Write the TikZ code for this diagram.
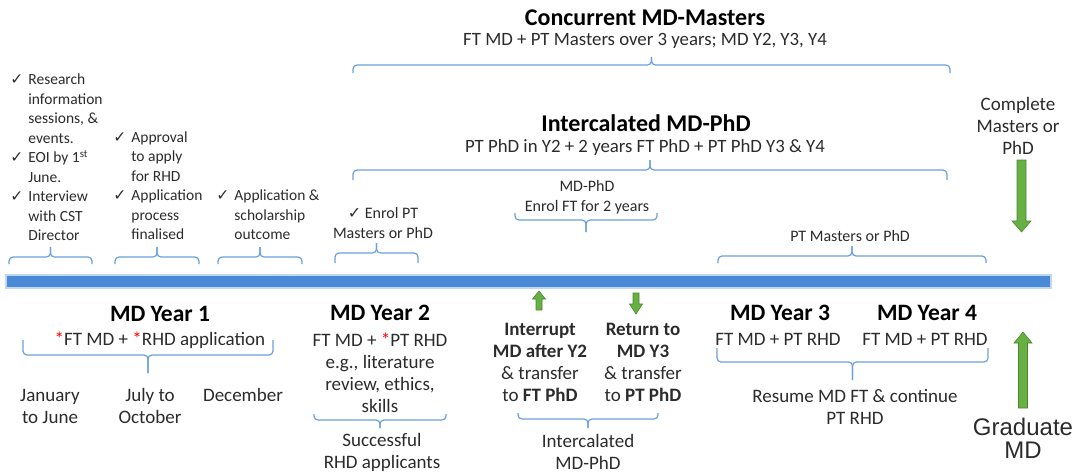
\documentclass[tikz,border=0pt]{standalone}
\usepackage{fontspec}
\setmainfont{Carlito}
\newfontfamily\symfont{DejaVu Sans}
\newfontfamily\arialfont{Liberation Sans}
\usepackage{xcolor}
\usetikzlibrary{positioning}
\definecolor{barblue}{HTML}{4A89D6}
\definecolor{brkblue}{HTML}{6A9FDC}
\definecolor{arrgreen}{HTML}{67B043}
\definecolor{inkgray}{HTML}{2B2B2B}
\newcommand{\chk}{{\symfont ✓}}
\newcommand{\rast}{\textcolor{red}{*}}
\newcommand{\brkt}[5]{%
  \draw[brk] (#1,#3) |- ({(#1+#2)/2},#4) -- ({(#1+#2)/2},#5);
  \draw[brk] (#2,#3) |- ({(#1+#2)/2},#4) -- ({(#1+#2)/2},#5);}
\newcommand{\blockarr}[6]{%
  \filldraw[blockarrow] ({#1-#5},#2) -- ({#1+#5},#2) -- ({#1+#5},#3) -- ({#1+#6},#3)
    -- (#1,#4) -- ({#1-#6},#3) -- ({#1-#5},#3) -- cycle;}
\tikzset{
  ttl/.style={font=\bfseries\fontsize{12}{14}\selectfont, text=black, inner sep=0pt},
  subttl/.style={font=\fontsize{9.4}{11}\selectfont, text=inkgray, inner sep=0pt},
  yrlbl/.style={font=\bfseries\fontsize{11.75}{14}\selectfont, text=black, inner sep=0pt},
  lbl/.style={font=\fontsize{9.5}{11}\selectfont, text=inkgray, align=center, inner sep=0pt},
  smalllbl/.style={font=\fontsize{8}{10}\selectfont, text=inkgray, align=center, inner sep=0pt},
  chklist/.style={font=\fontsize{7.75}{9.75}\selectfont, text=inkgray, anchor=west, inner sep=0pt},
  brk/.style={draw=brkblue, line width=0.6pt, rounded corners=2pt},
  blockarrow/.style={fill=arrgreen, draw=arrgreen!75!black, line width=0.3pt},
}

\begin{document}
\begin{tikzpicture}[x=0.5pt, y=-0.5pt]
  \useasboundingbox (0,0) rectangle (1085,472);

  % timeline
  \fill[barblue, draw=barblue!35, line width=0.8pt] (6,275) rectangle (1051,288);

  % upper part
  \node[ttl] (conct) at (645,18) {Concurrent MD-Masters};
  \node[subttl] (concs) at (645,41) {FT MD + PT Masters over 3 years; MD Y2, Y3, Y4};
  \node[ttl] (intct) at (646,123) {Intercalated MD-PhD};
  \node[subttl] (intcs) at (645,147) {PT PhD in Y2 + 2 years FT PhD + PT PhD Y3 \& Y4};

  \node[chklist] (chka) at (10,159) {\begin{tabular}{@{}l@{\hspace{2.5pt}}l@{}}
    \chk & Research\\ & information\\ & sessions, \&\\ & events.\\
    \chk & EOI by 1\textsuperscript{st}\\ & June.\\
    \chk & Interview\\ & with CST\\ & Director\end{tabular}};
  \node[chklist] (chkb) at (113,187) {\begin{tabular}{@{}l@{\hspace{2.5pt}}l@{}}
    \chk & Approval\\ & to apply\\ & for RHD\\
    \chk & Application\\ & process\\ & finalised\end{tabular}};
  \node[chklist] (chkc) at (216,216.5) {\begin{tabular}{@{}l@{\hspace{2.5pt}}l@{}}
    \chk & Application \&\\ & scholarship\\ & outcome\end{tabular}};

  \node[smalllbl] (enrol) at (383,223) {\chk\ Enrol PT\\Masters or PhD};
  \node[smalllbl] (mdphd) at (587,197) {MD-PhD\\Enrol FT for 2 years};
  \node[smalllbl] (ptm) at (850,236) {PT Masters or PhD};
  \node[lbl] (cmp) at (1018,126) {Complete\\Masters or\\PhD};

  % lower part
  \node[yrlbl] (yra) at (160,314) {MD Year 1};
  \node[lbl] (yras) at (160,340) {\rast FT MD + \rast RHD application};
  \node[lbl] (jan) at (50,406) {January\\to June};
  \node[lbl] (jul) at (150,406) {July to\\October};
  \node[lbl] (dec) at (243,395) {December};

  \node[yrlbl] (yrb) at (380,313) {MD Year 2};
  \node[lbl] (yrbs) at (380,372.5) {FT MD + \rast PT RHD\\e.g., literature\\review, ethics,\\skills};
  \node[lbl] (succ) at (382,452) {Successful\\RHD applicants};

  \node[lbl] (intr) at (540,362.5) {\textbf{Interrupt}\\\textbf{MD after Y2}\\\& transfer\\to \textbf{FT PhD}};
  \node[lbl] (ret) at (643,362.5) {\textbf{Return to}\\\textbf{MD Y3}\\\& transfer\\to \textbf{PT PhD}};
  \node[lbl] (intm) at (588,452) {Intercalated\\MD-PhD};

  \node[yrlbl] (yrc) at (780,313) {MD Year 3};
  \node[lbl] (yrcs) at (778,339) {FT MD + PT RHD};
  \node[yrlbl] (yrd) at (927,313) {MD Year 4};
  \node[lbl] (yrds) at (925,339) {FT MD + PT RHD};
  \node[lbl] (res) at (855,407) {Resume MD FT \& continue\\PT RHD};
  \node[lbl, font=\arialfont\fontsize{12}{11.5}\selectfont] (grad) at (1023,438) {Graduate\\MD};

  % brackets: x1/x2/end/line/tip
  \foreach \xa/\xb/\ye/\yl/\yt in {353/950/73/65/57, 353/947/180/170/160,
      515/657/213/220/232, 335/418/263/253/243, 718/986/263/256/246,
      9/92/264/257/247, 115/199/264/257/247, 218/302/264/257/247,
      23/273/340/355/373, 314/446/414/420/428, 518/658/413/419/428,
      717/988/348/362/380}
    {\brkt{\xa}{\xb}{\ye}{\yl}{\yt}}

  % green arrows: x/tail/head base/tip/half shaft/half head
  \blockarr{1021.5}{160}{221}{232}{4.5}{9.5}
  \blockarr{1023}{408}{343}{332}{4.5}{9}
  \blockarr{539}{310}{299}{291}{3}{6.5}
  \blockarr{636}{293}{304}{314}{3}{6.5}
\end{tikzpicture}
\end{document}
